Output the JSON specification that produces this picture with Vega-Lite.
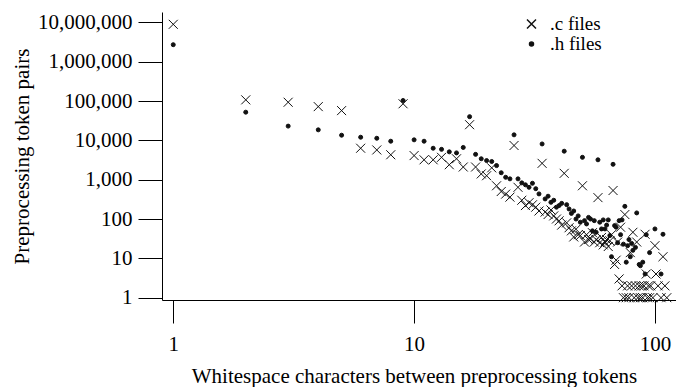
{
  "$schema": "https://vega.github.io/schema/vega-lite/v6.json",
  "autosize": "none",
  "width": 514,
  "height": 288,
  "padding": {"left": 162, "top": 12, "right": 0, "bottom": 87},
  "background": "white",
  "config": {
    "view": {"stroke": null},
    "font": "Liberation Serif",
    "axis": {"labelFont": "Liberation Serif", "titleFont": "Liberation Serif", "labelFontSize": 21, "titleFontSize": 21, "labelColor": "#000", "titleColor": "#000", "titleFontWeight": "normal", "domainColor": "#000", "tickColor": "#000", "domainWidth": 1, "tickWidth": 1, "grid": false},
    "legend": {"labelFont": "Liberation Serif", "labelFontSize": 19, "labelColor": "#000"}
  },
  "data": {"values": [
    {"t":".c files","x":1,"y":8900000},{"t":".c files","x":2,"y":107000},{"t":".c files","x":3,"y":93000},{"t":".c files","x":4,"y":72000},{"t":".c files","x":5,"y":57000},{"t":".c files","x":6,"y":6300},{"t":".c files","x":7,"y":5700},{"t":".c files","x":8,"y":4300},{"t":".c files","x":9,"y":85000},{"t":".c files","x":10,"y":4100},{"t":".c files","x":11,"y":3200},{"t":".c files","x":12,"y":3200},{"t":".c files","x":13,"y":3700},{"t":".c files","x":14,"y":2400},{"t":".c files","x":15,"y":3400},{"t":".c files","x":16,"y":2100},{"t":".c files","x":17,"y":25000},{"t":".c files","x":18,"y":2100},{"t":".c files","x":19,"y":1400},{"t":".c files","x":20,"y":1260},{"t":".c files","x":21,"y":2000},{"t":".c files","x":22,"y":700},{"t":".c files","x":23,"y":500},{"t":".c files","x":24,"y":430},{"t":".c files","x":25,"y":360},{"t":".c files","x":26,"y":7400},{"t":".c files","x":27,"y":640},{"t":".c files","x":28,"y":300},{"t":".c files","x":29,"y":220},{"t":".c files","x":30,"y":260},{"t":".c files","x":31,"y":230},{"t":".c files","x":32,"y":200},{"t":".c files","x":33,"y":160},{"t":".c files","x":34,"y":2600},{"t":".c files","x":35,"y":150},{"t":".c files","x":36,"y":130},{"t":".c files","x":37,"y":170},{"t":".c files","x":38,"y":120},{"t":".c files","x":39,"y":100},{"t":".c files","x":40,"y":90},{"t":".c files","x":41,"y":70},{"t":".c files","x":42,"y":1450},{"t":".c files","x":43,"y":80},{"t":".c files","x":44,"y":60},{"t":".c files","x":45,"y":50},{"t":".c files","x":46,"y":35},{"t":".c files","x":47,"y":55},{"t":".c files","x":48,"y":40},{"t":".c files","x":49,"y":38},{"t":".c files","x":50,"y":700},{"t":".c files","x":51,"y":26},{"t":".c files","x":52,"y":40},{"t":".c files","x":53,"y":30},{"t":".c files","x":54,"y":31},{"t":".c files","x":55,"y":45},{"t":".c files","x":56,"y":26},{"t":".c files","x":57,"y":30},{"t":".c files","x":58,"y":350},{"t":".c files","x":59,"y":25},{"t":".c files","x":60,"y":34},{"t":".c files","x":61,"y":22},{"t":".c files","x":62,"y":26},{"t":".c files","x":63,"y":30},{"t":".c files","x":64,"y":20},{"t":".c files","x":65,"y":28},{"t":".c files","x":66,"y":40},{"t":".c files","x":67,"y":530},{"t":".c files","x":68,"y":7},{"t":".c files","x":69,"y":9},{"t":".c files","x":70,"y":26},{"t":".c files","x":71,"y":3},{"t":".c files","x":72,"y":62},{"t":".c files","x":73,"y":2},{"t":".c files","x":74,"y":1},{"t":".c files","x":75,"y":130},{"t":".c files","x":76,"y":1},{"t":".c files","x":77,"y":2},{"t":".c files","x":78,"y":1},{"t":".c files","x":79,"y":14},{"t":".c files","x":80,"y":2},{"t":".c files","x":81,"y":46},{"t":".c files","x":82,"y":1},{"t":".c files","x":83,"y":2},{"t":".c files","x":84,"y":26},{"t":".c files","x":85,"y":1},{"t":".c files","x":86,"y":2},{"t":".c files","x":87,"y":1},{"t":".c files","x":88,"y":2},{"t":".c files","x":89,"y":1},{"t":".c files","x":90,"y":2},{"t":".c files","x":91,"y":41},{"t":".c files","x":92,"y":4},{"t":".c files","x":93,"y":1},{"t":".c files","x":94,"y":2},{"t":".c files","x":95,"y":1},{"t":".c files","x":96,"y":2},{"t":".c files","x":98,"y":1},{"t":".c files","x":100,"y":21},{"t":".c files","x":101,"y":4},{"t":".c files","x":103,"y":2},{"t":".c files","x":106,"y":1},{"t":".c files","x":108,"y":11},{"t":".c files","x":110,"y":2},{"t":".c files","x":112,"y":1},
    {"t":".h files","x":1,"y":2700000},{"t":".h files","x":2,"y":52000},{"t":".h files","x":3,"y":23000},{"t":".h files","x":4,"y":18500},{"t":".h files","x":5,"y":13500},{"t":".h files","x":6,"y":12000},{"t":".h files","x":7,"y":11300},{"t":".h files","x":8,"y":9500},{"t":".h files","x":9,"y":103000},{"t":".h files","x":10,"y":10300},{"t":".h files","x":11,"y":9500},{"t":".h files","x":12,"y":6300},{"t":".h files","x":13,"y":5900},{"t":".h files","x":14,"y":5100},{"t":".h files","x":15,"y":4800},{"t":".h files","x":16,"y":6600},{"t":".h files","x":17,"y":40000},{"t":".h files","x":18,"y":4400},{"t":".h files","x":19,"y":3400},{"t":".h files","x":20,"y":3060},{"t":".h files","x":21,"y":2900},{"t":".h files","x":22,"y":2280},{"t":".h files","x":23,"y":1500},{"t":".h files","x":24,"y":1150},{"t":".h files","x":25,"y":1050},{"t":".h files","x":26,"y":13800},{"t":".h files","x":27,"y":1050},{"t":".h files","x":28,"y":830},{"t":".h files","x":29,"y":740},{"t":".h files","x":30,"y":640},{"t":".h files","x":31,"y":810},{"t":".h files","x":32,"y":590},{"t":".h files","x":33,"y":435},{"t":".h files","x":34,"y":8100},{"t":".h files","x":35,"y":324},{"t":".h files","x":36,"y":380},{"t":".h files","x":37,"y":266},{"t":".h files","x":38,"y":300},{"t":".h files","x":39,"y":200},{"t":".h files","x":40,"y":220},{"t":".h files","x":41,"y":250},{"t":".h files","x":42,"y":5300},{"t":".h files","x":43,"y":232},{"t":".h files","x":44,"y":180},{"t":".h files","x":45,"y":139},{"t":".h files","x":46,"y":160},{"t":".h files","x":47,"y":100},{"t":".h files","x":48,"y":120},{"t":".h files","x":49,"y":83},{"t":".h files","x":50,"y":3700},{"t":".h files","x":51,"y":91},{"t":".h files","x":52,"y":75},{"t":".h files","x":53,"y":110},{"t":".h files","x":54,"y":100},{"t":".h files","x":55,"y":50},{"t":".h files","x":56,"y":91},{"t":".h files","x":57,"y":46},{"t":".h files","x":58,"y":3200},{"t":".h files","x":59,"y":83},{"t":".h files","x":60,"y":56},{"t":".h files","x":61,"y":95},{"t":".h files","x":62,"y":56},{"t":".h files","x":63,"y":70},{"t":".h files","x":64,"y":95},{"t":".h files","x":65,"y":38},{"t":".h files","x":66,"y":11},{"t":".h files","x":67,"y":2460},{"t":".h files","x":68,"y":68},{"t":".h files","x":69,"y":62},{"t":".h files","x":70,"y":25},{"t":".h files","x":71,"y":91},{"t":".h files","x":72,"y":40},{"t":".h files","x":73,"y":95},{"t":".h files","x":74,"y":23},{"t":".h files","x":75,"y":210},{"t":".h files","x":76,"y":8},{"t":".h files","x":77,"y":21},{"t":".h files","x":78,"y":30},{"t":".h files","x":79,"y":11},{"t":".h files","x":80,"y":24},{"t":".h files","x":81,"y":16},{"t":".h files","x":83,"y":19},{"t":".h files","x":84,"y":143},{"t":".h files","x":86,"y":7},{"t":".h files","x":87,"y":6.5},{"t":".h files","x":89,"y":8},{"t":".h files","x":91,"y":4},{"t":".h files","x":92,"y":40},{"t":".h files","x":95,"y":14},{"t":".h files","x":100,"y":56},{"t":".h files","x":106,"y":4},{"t":".h files","x":108,"y":41}
  ]},
  "mark": {"type": "point", "stroke": "#111", "strokeWidth": 1, "opacity": 1},
  "encoding": {
    "x": {"field": "x", "type": "quantitative", "scale": {"type": "log", "domain": [0.898, 122.3], "nice": false},
      "axis": {"values": [1, 10, 100], "format": "d", "tickSize": 23, "labelPadding": 10, "title": "Whitespace characters between preprocessing tokens", "titleX": 252, "titleY": 82, "titleBaseline": "alphabetic", "titleAlign": "center"}},
    "y": {"field": "y", "type": "quantitative", "scale": {"type": "log", "domain": [0.874, 18300000], "nice": false},
      "axis": {"values": [1, 10, 100, 1000, 10000, 100000, 1000000, 10000000], "format": ",", "tickSize": 24, "labelPadding": 6, "title": "Preprocessing token pairs", "titleAngle": 270, "titleX": -133.5, "titleY": 144, "titleBaseline": "alphabetic", "titleAlign": "center"}},
    "shape": {"field": "t", "type": "nominal", "scale": {"domain": [".c files", ".h files"], "range": ["M-1,-1L1,1M-1,1L1,-1", "circle"]},
      "legend": {"title": null, "orient": "none", "legendX": 360, "legendY": 2.5, "labelOffset": 9, "rowPadding": -1, "padding": 0,
        "encode": {"symbols": {"update": {"stroke": {"value": "#111"}, "strokeWidth": {"value": 1}}}}}},
    "fill": {"field": "t", "type": "nominal", "scale": {"domain": [".c files", ".h files"], "range": ["transparent", "#111"]},
      "legend": {"title": null, "orient": "none", "legendX": 360, "legendY": 2.5, "labelOffset": 9, "rowPadding": -1, "padding": 0,
        "encode": {"symbols": {"update": {"stroke": {"value": "#111"}, "strokeWidth": {"value": 1}}}}}},
    "size": {"field": "t", "type": "nominal", "scale": {"domain": [".c files", ".h files"], "range": [81, 16]},
      "legend": {"title": null, "orient": "none", "legendX": 360, "legendY": 2.5, "labelOffset": 9, "rowPadding": -1, "padding": 0,
        "encode": {"symbols": {"update": {"stroke": {"value": "#111"}, "strokeWidth": {"value": 1}}}}}}
  }
}
